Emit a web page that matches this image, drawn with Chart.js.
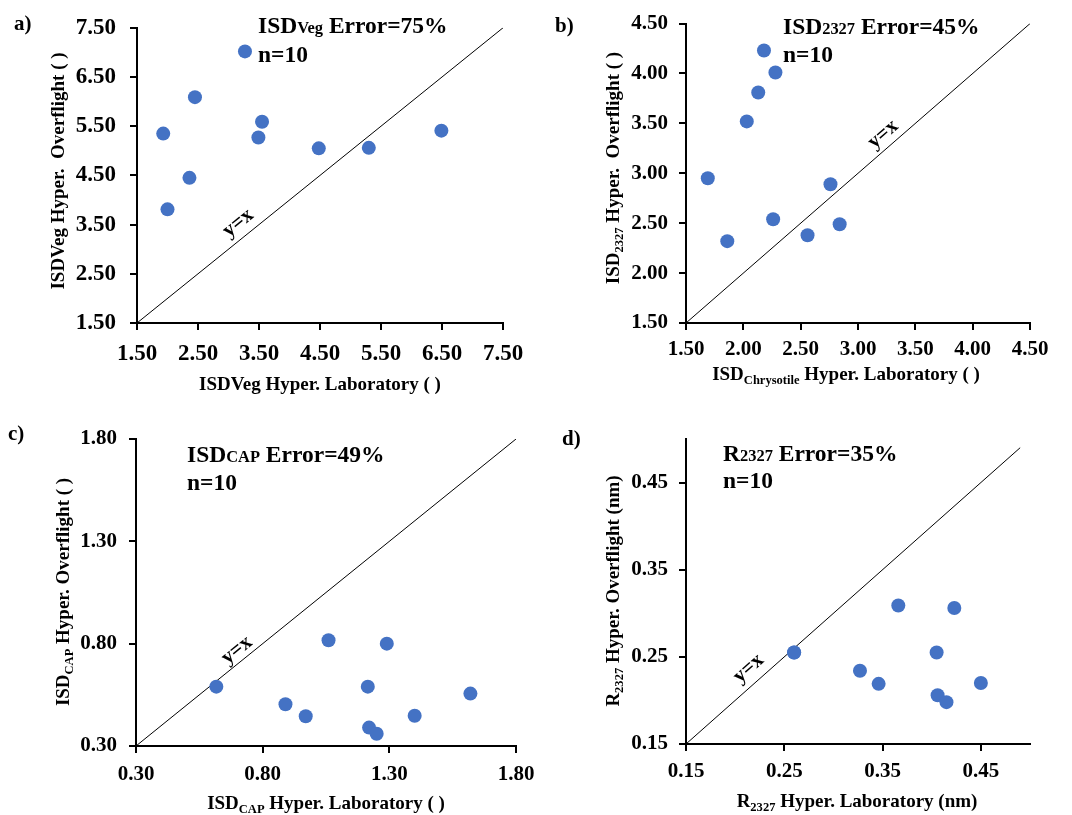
<!DOCTYPE html>
<html><head><meta charset="utf-8">
<script src="https://cdn.jsdelivr.net/npm/chart.js@4/dist/chart.umd.min.js"></script>
<style>
html,body{margin:0;padding:0;background:#fff;}
#wrap{position:relative;width:1072px;height:815px;overflow:hidden;background:#fff;}
canvas{position:absolute;left:0;top:0;}
</style></head><body><div id="wrap">
<canvas id="ca" width="1072" height="815"></canvas>
<canvas id="cb" width="1072" height="815"></canvas>
<canvas id="cc" width="1072" height="815"></canvas>
<canvas id="cd" width="1072" height="815"></canvas>
<canvas id="txt" width="1072" height="815"></canvas>
</div>
<script>
// ---- data ----
const aLab  = [3.27, 2.45, 1.93, 3.55, 3.49, 4.48, 5.30, 6.49, 2.36, 2.00];
const aOver = [7.02, 6.09, 5.35, 5.59, 5.27, 5.05, 5.06, 5.41, 4.45, 3.81];
const aTicks = [1.5, 2.5, 3.5, 4.5, 5.5, 6.5, 7.5];
const aOneToOne = [1.5, 7.5];

const bLab  = [2.18, 2.28, 2.13, 2.03, 1.69, 2.76, 2.26, 2.84, 2.56, 1.86];
const bOver = [4.23, 4.01, 3.81, 3.52, 2.95, 2.89, 2.54, 2.49, 2.38, 2.32];
const bTicks = [1.5, 2.0, 2.5, 3.0, 3.5, 4.0, 4.5];
const bOneToOne = [1.5, 4.5];

const cLab  = [1.06, 1.29, 0.617, 1.215, 1.62, 0.89, 0.97, 1.40, 1.22, 1.25];
const cOver = [0.817, 0.80, 0.59, 0.59, 0.556, 0.504, 0.445, 0.448, 0.39, 0.36];
const cTicks = [0.3, 0.8, 1.3, 1.8];
const cOneToOne = [0.3, 1.8];

const dLab  = [0.366, 0.423, 0.26, 0.26, 0.405, 0.327, 0.346, 0.45, 0.406, 0.415];
const dOver = [0.309, 0.306, 0.255, 0.255, 0.255, 0.234, 0.219, 0.22, 0.206, 0.198];
const dTicks = [0.15, 0.25, 0.35, 0.45];
const dOneToOne = [0.15, 0.49];

// ---- texts ----
const aNote = [['ISD','n'],['Veg','s'],[' Error=75%','n']];
const bNote = [['ISD','n'],['2327','s'],[' Error=45%','n']];
const cNote = [['ISD','n'],['CAP','s'],[' Error=49%','n']];
const dNote = [['R','n'],['2327','s'],[' Error=35%','n']];
const nText = [['n=10','n']];
const aXTitle = [['ISDVeg Hyper. Laboratory ( )','n']];
const aYTitle = [['ISDVeg Hyper.  Overflight ( )','n']];
const bXTitle = [['ISD','n'],['Chrysotile','b'],[' Hyper. Laboratory ( )','n']];
const bYTitle = [['ISD','n'],['2327','b'],[' Hyper.  Overflight ( )','n']];
const cXTitle = [['ISD','n'],['CAP','b'],[' Hyper. Laboratory ( )','n']];
const cYTitle = [['ISD','n'],['CAP','b'],[' Hyper. Overflight ( )','n']];
const dXTitle = [['R','n'],['2327','b'],[' Hyper. Laboratory (nm)','n']];
const dYTitle = [['R','n'],['2327','b'],[' Hyper. Overflight (nm)','n']];
const diagText = 'y=x';

const FAM = '"Liberation Serif", "Times New Roman", serif';
const W = 1072, H = 815;

const panels = [
  {id:'ca', lab:aLab, over:aOver, ticks:aTicks, diag:aOneToOne, xr:[1.5,7.5], yr:[1.5,7.5],
   area:{l:137,r:503,t:19,b:323}, tf:23, yPad:14, xPad:10, dl:{x:3.16,y:3.53}, df:21},
  {id:'cb', lab:bLab, over:bOver, ticks:bTicks, diag:bOneToOne, xr:[1.5,4.5], yr:[1.5,4.5],
   area:{l:686,r:1030,t:19,b:323}, tf:21, yPad:11, xPad:7, dl:{x:3.22,y:3.39}, df:21},
  {id:'cc', lab:cLab, over:cOver, ticks:cTicks, diag:cOneToOne, xr:[0.3,1.8], yr:[0.3,1.8],
   area:{l:136,r:516,t:439,b:746}, tf:21, yPad:12, xPad:9, dl:{x:0.698,y:0.768}, df:21},
  {id:'cd', lab:dLab, over:dOver, ticks:dTicks, diag:dOneToOne, xr:[0.15,0.5], yr:[0.15,0.5],
   area:{l:686,r:1030,t:439,b:744}, tf:21, yPad:11, xPad:8, dl:{x:0.2137,y:0.2367}, df:21}
];

const diagLabelPlugin = {
  id:'diagLabel',
  afterDatasetsDraw(chart, args, opts){
    const p = opts.p; if(!p) return;
    const xs = chart.scales.x, ys = chart.scales.y;
    const x0 = xs.getPixelForValue(p.diag[0]), y0 = ys.getPixelForValue(p.diag[0]);
    const x1 = xs.getPixelForValue(p.diag[1]), y1 = ys.getPixelForValue(p.diag[1]);
    const ang = Math.atan2(y1 - y0, x1 - x0);
    const ctx = chart.ctx;
    ctx.save();
    ctx.translate(xs.getPixelForValue(p.dl.x), ys.getPixelForValue(p.dl.y));
    ctx.rotate(ang);
    ctx.font = `bold ${p.df}px ${FAM}`;
    ctx.fillStyle = '#000'; ctx.textAlign = 'center'; ctx.textBaseline = 'middle';
    ctx.fillText(diagText, 0, 0);
    ctx.restore();
  }
};

function makeChart(p){
  const tickFont = {family: FAM, weight:'bold', size:p.tf};
  const grid = {display:true, drawOnChartArea:false, drawTicks:true, tickLength:7, color:'#000', lineWidth:2};
  const border = {display:true, color:'#000', width:2};
  return new Chart(document.getElementById(p.id), {
    type:'scatter',
    data:{datasets:[
      {data:p.lab.map((x,i)=>({x:x, y:p.over[i]})), backgroundColor:'#4472C4', borderWidth:0,
       pointRadius:7, pointHoverRadius:7, pointBorderWidth:0},
      {data:p.diag.map(v=>({x:v, y:v})), showLine:true, borderColor:'#000', borderWidth:1,
       pointRadius:0, pointHoverRadius:0, fill:false}
    ]},
    options:{
      responsive:false, animation:false, events:[],
      layout:{padding:{left:0, top:p.area.t, right:W - p.area.r, bottom:H - p.area.b - 60}},
      plugins:{legend:{display:false}, tooltip:{enabled:false}, diagLabel:{p:p}},
      scales:{
        x:{type:'linear', min:p.xr[0], max:p.xr[1],
           afterBuildTicks:s=>{ s.ticks = p.ticks.map(v=>({value:v})); },
           afterFit:s=>{ s.height = 60; },
           grid:grid, border:border,
           ticks:{font:tickFont, color:'#000', padding:p.xPad, maxRotation:0, autoSkip:false,
                  callback:v=>Number(v).toFixed(2)}},
        y:{type:'linear', min:p.yr[0], max:p.yr[1],
           afterBuildTicks:s=>{ s.ticks = p.ticks.map(v=>({value:v})); },
           afterFit:s=>{ s.width = p.area.l; },
           grid:grid, border:border,
           ticks:{font:tickFont, color:'#000', padding:p.yPad, autoSkip:false,
                  callback:v=>Number(v).toFixed(2)}}
      }
    },
    plugins:[diagLabelPlugin]
  });
}
panels.forEach(makeChart);

// ---- rich text overlay ----
const tctx = document.getElementById('txt').getContext('2d');
function fontFor(k, size){
  const s = k === 'n' ? size : (k === 's' ? size*0.70 : size*0.66);
  return `bold ${s}px ${FAM}`;
}
function richWidth(segs, size){
  let w = 0;
  for (const [t,k] of segs){ tctx.font = fontFor(k,size); w += tctx.measureText(t).width; }
  return w;
}
function drawRich(segs, x, y, size, align, angle){
  tctx.save();
  tctx.translate(x, y); tctx.rotate(angle || 0);
  const w = richWidth(segs, size);
  let cx = align === 'center' ? -w/2 : 0;
  tctx.textBaseline = 'alphabetic'; tctx.textAlign = 'left'; tctx.fillStyle = '#000';
  for (const [t,k] of segs){
    tctx.font = fontFor(k,size);
    const dy = k === 'b' ? size*0.22 : 0;
    tctx.fillText(t, cx, dy);
    cx += tctx.measureText(t).width;
  }
  tctx.restore();
}
const R = -Math.PI/2;
// panel letters
drawRich([['a)','n']], 14, 30, 21, 'left');
drawRich([['b)','n']], 555, 32, 21, 'left');
drawRich([['c)','n']], 8, 440, 21, 'left');
drawRich([['d)','n']], 562, 445, 21, 'left');
// notes
drawRich(aNote, 258, 33, 23.5, 'left'); drawRich(nText, 258, 61.5, 23.5, 'left');
drawRich(bNote, 783, 34, 23.5, 'left'); drawRich(nText, 783, 61.5, 23.5, 'left');
drawRich(cNote, 187, 462, 23.5, 'left'); drawRich(nText, 187, 490, 23.5, 'left');
drawRich(dNote, 723, 461, 23.5, 'left'); drawRich(nText, 723, 488, 23.5, 'left');
// axis titles
drawRich(aXTitle, 320, 390, 19, 'center');
drawRich(aYTitle, 64, 171, 19, 'center', R);
drawRich(bXTitle, 846, 380, 19, 'center');
drawRich(bYTitle, 619, 168, 19, 'center', R);
drawRich(cXTitle, 326, 809, 19, 'center');
drawRich(cYTitle, 69, 592, 19, 'center', R);
drawRich(dXTitle, 857, 807, 19, 'center');
drawRich(dYTitle, 619, 591, 19, 'center', R);
</script></body></html>
